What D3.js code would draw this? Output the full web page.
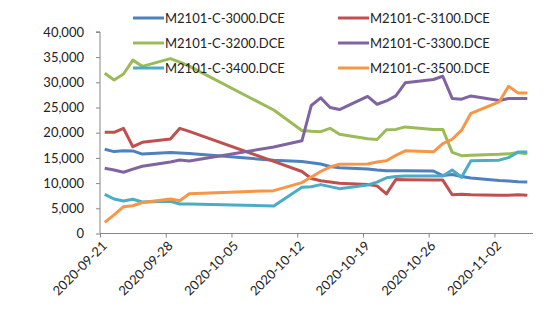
<!DOCTYPE html>
<html><head><meta charset="utf-8">
<script src="https://cdn.jsdelivr.net/npm/d3@7"></script>
<style>html,body{margin:0;padding:0;background:#fff;}svg{display:block;font-family:Lato,"Liberation Sans",Arial,sans-serif;}</style>
</head><body>
<svg id="c" width="550" height="327"></svg>
<script>
const dates = ["2020-09-21","2020-09-22","2020-09-23","2020-09-24","2020-09-25","2020-09-28","2020-09-29","2020-09-30",
"2020-10-09","2020-10-12","2020-10-13","2020-10-14","2020-10-15","2020-10-16","2020-10-19","2020-10-20","2020-10-21",
"2020-10-22","2020-10-23","2020-10-26","2020-10-27","2020-10-28","2020-10-29","2020-10-30","2020-11-02","2020-11-03",
"2020-11-04","2020-11-05"];
const seriesNames = ["M2101-C-3000.DCE","M2101-C-3100.DCE","M2101-C-3200.DCE","M2101-C-3300.DCE","M2101-C-3400.DCE","M2101-C-3500.DCE"];
const s3000 = [16700,16250,16400,16380,15750,16050,15950,15850,14550,14300,14050,13800,13300,13050,12800,12600,12460,12460,12460,12400,11500,11700,11300,11000,10500,10400,10250,10200];
const s3100 = [20080,20080,20870,17220,18090,18750,20870,20250,14300,12300,10900,10450,10200,9950,9700,9450,7850,10700,10650,10600,10600,7700,7800,7700,7600,7600,7700,7600];
const s3200 = [31780,30450,31650,34400,33170,34700,34000,33200,24500,20450,20300,20200,20870,19700,18800,18650,20600,20650,21150,20650,20650,16100,15450,15550,15700,15800,16050,15800];
const s3300 = [12930,12600,12150,12780,13350,14200,14580,14400,17150,18400,25400,26900,25000,24600,27200,25650,26300,27300,29900,30550,31200,26800,26650,27300,26400,26800,26800,26800];
const s3400 = [7780,6850,6450,6800,6250,6400,5850,5850,5450,9200,9280,9700,9300,8900,9620,10200,11050,11300,11400,11400,11400,12600,11150,14450,14550,15050,16150,16150];
const s3500 = [2200,3700,5320,5500,6150,6850,6500,7900,8500,10100,11200,12300,13200,13750,13780,14200,14440,15500,16400,16200,17850,18700,20500,23850,26100,29200,27900,27900];
const yTicks = [0,5000,10000,15000,20000,25000,30000,35000,40000];
const xTicks = ["2020-09-21","2020-09-28","2020-10-05","2020-10-12","2020-10-19","2020-10-26","2020-11-02"];
const colors = ["#4F81BD","#C0504D","#9BBB59","#8064A2","#4BACC6","#F79646"];
const allSeries = [s3000,s3100,s3200,s3300,s3400,s3500];

const parse = d3.utcParse("%Y-%m-%d");
const fmtTick = d3.utcFormat("%Y-%m-%d");
const svg = d3.select("#c");
const x = d3.scaleUtc().domain([parse("2020-09-21"), parse("2020-11-06")]).range([100, 532]);
const y = d3.scaleLinear().domain([0, 40000]).range([233.5, 31.9]);
const axisColor = "#868686";

// Y axis
const yAxis = d3.axisLeft(y).tickValues(yTicks).tickSize(4).tickPadding(12).tickFormat(d3.format(","));
const gy = svg.append("g").attr("transform","translate(100,0)").call(yAxis);
gy.selectAll("path,line").attr("stroke", axisColor);
gy.select(".domain").attr("d", `M-4,${y(40000)}H0V${y(0)}`);
gy.selectAll("text").attr("font-size", 13).attr("fill", "#222").attr("font-family","Lato,'Liberation Sans',Arial,sans-serif");

// X axis
const xAxis = d3.axisBottom(x).tickValues(xTicks.map(parse)).tickSize(4).tickFormat(fmtTick);
const gx = svg.append("g").attr("transform", `translate(0,${y(0)})`).call(xAxis);
gx.selectAll("path,line").attr("stroke", axisColor);
gx.select(".domain").attr("d", `M100,0H533`);
gx.selectAll("text").attr("font-size", 13).attr("fill", "#222")
  .attr("font-family","Lato,'Liberation Sans',Arial,sans-serif")
  .attr("text-anchor","end").attr("dy","0.35em")
  .attr("transform","translate(4,10) rotate(-45)").attr("x",0).attr("y",0);

// Lines
const line = d3.line()
  .x((d,i) => x(d3.utcHour.offset(parse(dates[i]), 12)))
  .y(d => y(d));
allSeries.forEach((s, k) => {
  svg.append("path").datum(s).attr("d", line).attr("fill","none")
    .attr("stroke", colors[k]).attr("stroke-width", 3).attr("stroke-linejoin","round");
});

// Legend
const legX = [133, 338], legY = [18, 43, 68];
seriesNames.forEach((n, k) => {
  const cx = legX[k % 2], cy = legY[Math.floor(k / 2)];
  svg.append("line").attr("x1", cx).attr("x2", cx + 31).attr("y1", cy).attr("y2", cy)
    .attr("stroke", colors[k]).attr("stroke-width", 3);
  svg.append("text").attr("x", cx + 32).attr("y", cy).attr("dy","0.35em")
    .attr("font-size", 13).attr("fill","#222").text(n);
});
</script>
</body></html>
